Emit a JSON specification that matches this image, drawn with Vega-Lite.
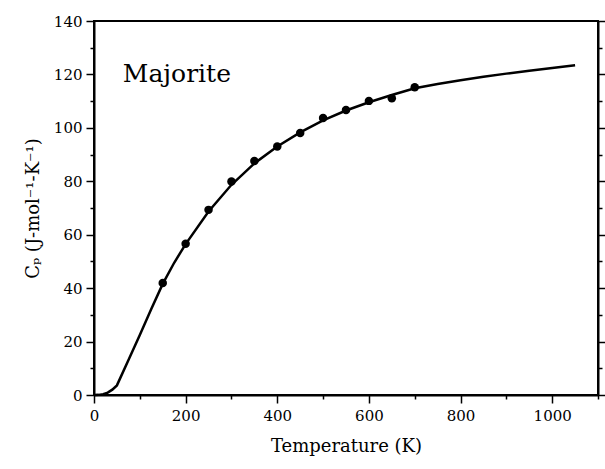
{
  "$schema": "https://vega.github.io/schema/vega-lite/v6.json",
  "width": 504,
  "height": 374,
  "autosize": {"type": "none"},
  "padding": {"left": 94, "top": 21, "right": 7, "bottom": 74},
  "background": "white",
  "config": {
    "view": {"stroke": "black", "strokeWidth": 2},
    "font": "DejaVu Serif",
    "text": {"font": "DejaVu Serif"},
    "axis": {
      "domainColor": "black", "domainWidth": 2, "tickColor": "black", "tickWidth": 1.5,
      "labelColor": "black", "labelFont": "DejaVu Serif", "labelFontSize": 15,
      "titleFont": "DejaVu Serif", "titleFontSize": 18, "titleFontWeight": "normal",
      "titleColor": "black", "grid": false
    }
  },
  "datasets": {
    "curve": [
      {"T": 0, "Cp": 0}, {"T": 10, "Cp": 0.05}, {"T": 20, "Cp": 0.3}, {"T": 30, "Cp": 0.9},
      {"T": 40, "Cp": 2.0}, {"T": 50, "Cp": 3.6}, {"T": 75, "Cp": 13.0}, {"T": 100, "Cp": 22.5},
      {"T": 125, "Cp": 32.2}, {"T": 150, "Cp": 41.6}, {"T": 175, "Cp": 49.5}, {"T": 200, "Cp": 56.5},
      {"T": 250, "Cp": 68.7}, {"T": 300, "Cp": 78.7}, {"T": 350, "Cp": 86.7}, {"T": 400, "Cp": 93},
      {"T": 450, "Cp": 98.3}, {"T": 500, "Cp": 102.8}, {"T": 550, "Cp": 106.5}, {"T": 600, "Cp": 109.6},
      {"T": 650, "Cp": 112.3}, {"T": 700, "Cp": 114.8}, {"T": 750, "Cp": 116.4}, {"T": 800, "Cp": 117.8},
      {"T": 850, "Cp": 119.1}, {"T": 900, "Cp": 120.3}, {"T": 950, "Cp": 121.4}, {"T": 1000, "Cp": 122.4},
      {"T": 1050, "Cp": 123.4}
    ],
    "points": [
      {"T": 150, "Cp": 41.9}, {"T": 200, "Cp": 56.6}, {"T": 250, "Cp": 69.3}, {"T": 300, "Cp": 79.9},
      {"T": 350, "Cp": 87.6}, {"T": 400, "Cp": 93.0}, {"T": 450, "Cp": 98.1}, {"T": 500, "Cp": 103.7},
      {"T": 550, "Cp": 106.7}, {"T": 600, "Cp": 110.1}, {"T": 650, "Cp": 111.1}, {"T": 700, "Cp": 115.2}
    ]
  },
  "layer": [
    {
      "data": {"name": "curve"},
      "mark": {"type": "line", "color": "black", "strokeWidth": 2.5},
      "encoding": {
        "x": {
          "field": "T", "type": "quantitative",
          "scale": {"domain": [0, 1100], "nice": false, "zero": false},
          "axis": {
            "title": "Temperature (K)",
            "values": [0, 100, 200, 300, 400, 500, 600, 700, 800, 900, 1000, 1100],
            "labelExpr": "datum.value % 200 === 0 && datum.value <= 1000 ? datum.label : ''",
            "format": "d",
            "tickSize": {"condition": {"test": "datum.value % 200 === 0", "value": 8}, "value": 4},
            "labelPadding": 5, "titlePadding": 14, "labelFlush": false, "labelOverlap": false
          }
        },
        "y": {
          "field": "Cp", "type": "quantitative",
          "scale": {"domain": [0, 140], "nice": false},
          "axis": {
            "title": "Cₚ (J-mol⁻¹-K⁻¹)",
            "orient": "left",
            "values": [0, 10, 20, 30, 40, 50, 60, 70, 80, 90, 100, 110, 120, 130, 140],
            "labelExpr": "datum.value % 20 === 0 ? datum.label : ''",
            "tickSize": {"condition": {"test": "datum.value % 20 === 0", "value": 8}, "value": 4},
            "labelPadding": 4, "titlePadding": 11, "labelFlush": false, "labelOverlap": false
          }
        }
      }
    },
    {
      "data": {"name": "points"},
      "mark": {"type": "circle", "color": "black", "opacity": 1, "size": 72},
      "encoding": {
        "x": {"field": "T", "type": "quantitative"},
        "y": {
          "field": "Cp", "type": "quantitative",
          "axis": {
            "title": null, "orient": "right", "labels": false,
            "values": [0, 10, 20, 30, 40, 50, 60, 70, 80, 90, 100, 110, 120, 130, 140],
            "tickSize": {"condition": {"test": "datum.value % 20 === 0", "value": 8}, "value": 4}
          }
        }
      }
    },
    {
      "data": {"values": [{"label": "Majorite"}]},
      "mark": {"type": "text", "align": "left", "baseline": "middle", "fontSize": 25, "color": "black"},
      "encoding": {
        "x": {"datum": 63, "type": "quantitative"},
        "y": {"datum": 120, "type": "quantitative", "axis": null},
        "text": {"field": "label"}
      }
    }
  ],
  "resolve": {"scale": {"y": "shared"}, "axis": {"y": "independent"}}
}
